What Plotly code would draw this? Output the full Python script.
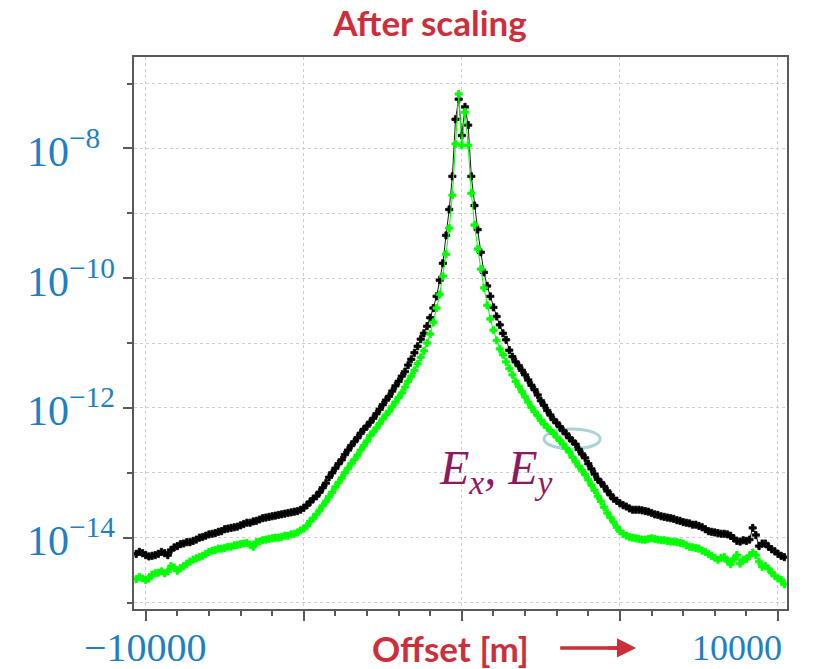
import numpy as np
import plotly.graph_objects as go

# Receiver offsets (m), 100 m spacing
offsets = np.arange(-10300, 10201, 100)

# log10 of the scaled field amplitudes
ex_log10 = [
    -14.25, -14.22, -14.24, -14.27,
    -14.29, -14.28, -14.27, -14.25, -14.22, -14.24, -14.27, -14.19, -14.15, -14.13,
    -14.10, -14.09, -14.07, -14.07, -14.05, -14.03, -14.00, -13.99, -13.97, -13.95,
    -13.94, -13.93, -13.91, -13.90, -13.87, -13.86, -13.85, -13.84, -13.83, -13.81,
    -13.79, -13.77, -13.77, -13.75, -13.74, -13.72, -13.70, -13.69, -13.68, -13.67,
    -13.66, -13.65, -13.64, -13.63, -13.62, -13.61, -13.60, -13.59, -13.57, -13.54,
    -13.50, -13.45, -13.40, -13.36, -13.30, -13.23, -13.16, -13.07, -13.00, -12.93,
    -12.86, -12.80, -12.72, -12.65, -12.58, -12.52, -12.46, -12.39, -12.33, -12.28,
    -12.22, -12.16, -12.09, -12.02, -11.95, -11.88, -11.82, -11.74, -11.66, -11.59,
    -11.51, -11.44, -11.34, -11.25, -11.15, -11.05, -10.94, -10.85, -10.74, -10.61,
    -10.46, -10.28, -10.03, -9.77, -9.34, -8.94, -8.43, -7.55, -7.24, -7.80,
    -7.36, -7.64, -8.43, -8.88, -9.25, -9.60, -9.91, -10.12, -10.28, -10.45,
    -10.59, -10.72, -10.85, -10.95, -11.11, -11.21, -11.29, -11.35, -11.42, -11.49,
    -11.57, -11.65, -11.72, -11.80, -11.89, -11.96, -12.04, -12.11, -12.18, -12.23,
    -12.29, -12.35, -12.40, -12.46, -12.51, -12.56, -12.64, -12.71, -12.77, -12.86,
    -12.94, -13.02, -13.10, -13.15, -13.21, -13.28, -13.34, -13.40, -13.43, -13.47,
    -13.50, -13.52, -13.55, -13.57, -13.57, -13.57, -13.58, -13.59, -13.60, -13.62,
    -13.64, -13.65, -13.67, -13.68, -13.69, -13.70, -13.71, -13.73, -13.74, -13.76,
    -13.77, -13.78, -13.80, -13.80, -13.82, -13.84, -13.87, -13.90, -13.91, -13.92,
    -13.93, -13.94, -13.94, -13.95, -13.97, -14.01, -14.05, -14.06, -14.04, -14.05,
    -14.03, -13.85, -13.96, -14.13, -14.09, -14.09, -14.14, -14.18, -14.21, -14.25,
    -14.28, -14.30,
]

ey_log10 = [
    -14.64, -14.61, -14.63, -14.65,
    -14.63, -14.57, -14.55, -14.54, -14.52, -14.55, -14.52, -14.44, -14.46, -14.51,
    -14.47, -14.44, -14.40, -14.37, -14.34, -14.32, -14.30, -14.28, -14.25, -14.22,
    -14.20, -14.19, -14.17, -14.17, -14.16, -14.14, -14.14, -14.12, -14.11, -14.10,
    -14.09, -14.08, -14.11, -14.14, -14.07, -14.06, -14.04, -14.03, -14.02, -14.01,
    -14.00, -14.00, -13.99, -13.97, -13.97, -13.95, -13.94, -13.92, -13.89, -13.86,
    -13.82, -13.75, -13.70, -13.64, -13.58, -13.51, -13.44, -13.37, -13.30, -13.22,
    -13.15, -13.08, -13.00, -12.93, -12.86, -12.80, -12.73, -12.65, -12.58, -12.51,
    -12.43, -12.37, -12.31, -12.24, -12.17, -12.11, -12.05, -11.98, -11.91, -11.84,
    -11.77, -11.68, -11.59, -11.51, -11.42, -11.32, -11.22, -11.12, -11.00, -10.86,
    -10.68, -10.46, -10.25, -9.97, -9.63, -9.23, -8.72, -7.93, -7.16, -7.95,
    -7.44, -7.95, -8.69, -9.18, -9.55, -9.86, -10.15, -10.42, -10.63, -10.80,
    -10.96, -11.09, -11.18, -11.29, -11.39, -11.49, -11.59, -11.67, -11.75, -11.83,
    -11.91, -11.99, -12.06, -12.12, -12.19, -12.25, -12.30, -12.35, -12.39, -12.45,
    -12.50, -12.56, -12.62, -12.68, -12.76, -12.83, -12.90, -12.96, -13.03, -13.11,
    -13.19, -13.27, -13.36, -13.44, -13.53, -13.62, -13.69, -13.76, -13.84, -13.90,
    -13.94, -13.97, -13.99, -14.00, -14.01, -14.02, -14.03, -14.03, -14.02, -14.01,
    -14.02, -14.03, -14.04, -14.04, -14.05, -14.06, -14.06, -14.07, -14.08, -14.09,
    -14.12, -14.14, -14.15, -14.16, -14.17, -14.20, -14.22, -14.25, -14.28, -14.31,
    -14.34, -14.31, -14.30, -14.36, -14.41, -14.33, -14.27, -14.40, -14.34, -14.33,
    -14.28, -14.23, -14.27, -14.37, -14.45, -14.44, -14.48, -14.54, -14.59, -14.63,
    -14.65, -14.72,
]

# Axis ticks
x_major = [-10000, -5000, 0, 5000, 10000]
x_labels = ["\u221210000", "10000"]
y_major_exp = [-8, -10, -12, -14]
y_minor_exp = [-7, -9, -11, -13, -15]

ex = 10.0 ** np.array(ex_log10)
ey = 10.0 ** np.array(ey_log10)

RED = "#cc2f3b"
BLUE = "#1f7fc4"
PURPLE = "#8c1a5f"
AXIS = "#5a5a5a"
GRID = "#cfcfcf"

fig = go.Figure()
fig.add_trace(go.Scatter(
    x=offsets, y=ex, mode="lines+markers", name="Ex",
    line=dict(color="#1a1a1a", width=1),
    marker=dict(symbol="cross", size=6, color="#000000",
                line=dict(width=0.8, color="#000000")),
))
fig.add_trace(go.Scatter(
    x=offsets, y=ey, mode="lines+markers", name="Ey",
    line=dict(color="#00ff00", width=1),
    marker=dict(symbol="cross", size=6, color="#00ff00",
                line=dict(width=0.8, color="#00ff00")),
))

fig.update_xaxes(
    range=[-10370, 10285],
    tickmode="array", tickvals=x_major, showticklabels=False,
    ticks="outside", ticklen=10, tickwidth=1.5, tickcolor=AXIS,
    minor=dict(dtick=1000, tick0=0, ticks="outside", ticklen=5,
               tickwidth=1.5, tickcolor=AXIS, showgrid=False),
    showgrid=True, gridcolor=GRID, griddash="dot", gridwidth=1,
    showline=True, linecolor=AXIS, linewidth=2, mirror=True,
    zeroline=False,
)
fig.update_yaxes(
    type="log", range=[-15.1, -6.59],
    tickmode="array",
    tickvals=[10.0 ** e for e in y_major_exp],
    showticklabels=False,
    ticks="outside", ticklen=9, tickwidth=1.5, tickcolor=AXIS,
    minor=dict(tickmode="array", tickvals=[10.0 ** e for e in y_minor_exp],
               ticks="outside", ticklen=5, tickwidth=1.5, tickcolor=AXIS,
               showgrid=True, gridcolor=GRID, griddash="dot", gridwidth=1),
    showgrid=True, gridcolor=GRID, griddash="dot", gridwidth=1,
    showline=True, linecolor=AXIS, linewidth=2, mirror=True,
    zeroline=False,
)

tick_font = dict(family="Liberation Serif", size=42, color=BLUE)
annotations = []
# y tick labels, left-aligned in one column
for e in y_major_exp:
    annotations.append(dict(
        x=-0.167, xref="paper", y=e, yref="y",
        text="10<sup>\u2212%d</sup>" % (-e),
        showarrow=False, xanchor="left", yanchor="middle", font=tick_font))

ARROW_Y = -0.0706
annotations += [
    dict(x=x_major[0], xref="x", y=ARROW_Y, yref="paper", text=x_labels[0],
         showarrow=False, xanchor="center", yanchor="middle",
         font=dict(family="Liberation Serif", size=40, color=BLUE)),
    dict(x=x_major[-1], xref="x", y=ARROW_Y, yref="paper", text=x_labels[1],
         showarrow=False, xanchor="right", yanchor="middle", xshift=6,
         font=dict(family="Liberation Serif", size=36, color=BLUE)),
    dict(x=0.485, xref="paper", y=ARROW_Y, yref="paper", text="<b>Offset [m]</b>",
         showarrow=False, xanchor="center", yanchor="middle",
         font=dict(family="Lato", size=35, color=RED)),
    # arrow head
    dict(x=0.769, xref="paper", y=ARROW_Y, yref="paper", text="",
         showarrow=True, ax=-30, ay=0, axref="pixel", ayref="pixel",
         arrowhead=2, arrowsize=1.1, arrowwidth=3.5, arrowcolor=RED),
    dict(x=0.554, xref="paper", y=0.25, yref="paper",
         text="<i>E</i><sub><i>x</i></sub><i>, E</i><sub><i>y</i></sub>",
         showarrow=False, xanchor="center", yanchor="middle",
         font=dict(family="Liberation Serif", size=48, color=PURPLE)),
]

# arrow shaft next to the axis title
fig.add_shape(type="line", xref="paper", yref="paper",
              x0=0.6527, x1=0.752, y0=ARROW_Y, y1=ARROW_Y,
              line=dict(color=RED, width=3.5))

fig.add_shape(type="circle", xref="paper", yref="paper",
              x0=0.628, x1=0.714, y0=0.290, y1=0.326,
              line=dict(color="#a8d3d9", width=3), layer="below")

fig.update_layout(
    width=826, height=669,
    margin=dict(l=134, r=39, t=57, b=60),
    paper_bgcolor="white", plot_bgcolor="white",
    showlegend=False,
    title=dict(text="<b>After scaling</b>", x=0.5206, xanchor="center",
               y=0.964, yanchor="middle",
               font=dict(family="Lato", size=35, color=RED)),
    annotations=annotations,
)

fig.write_html("out.html")
